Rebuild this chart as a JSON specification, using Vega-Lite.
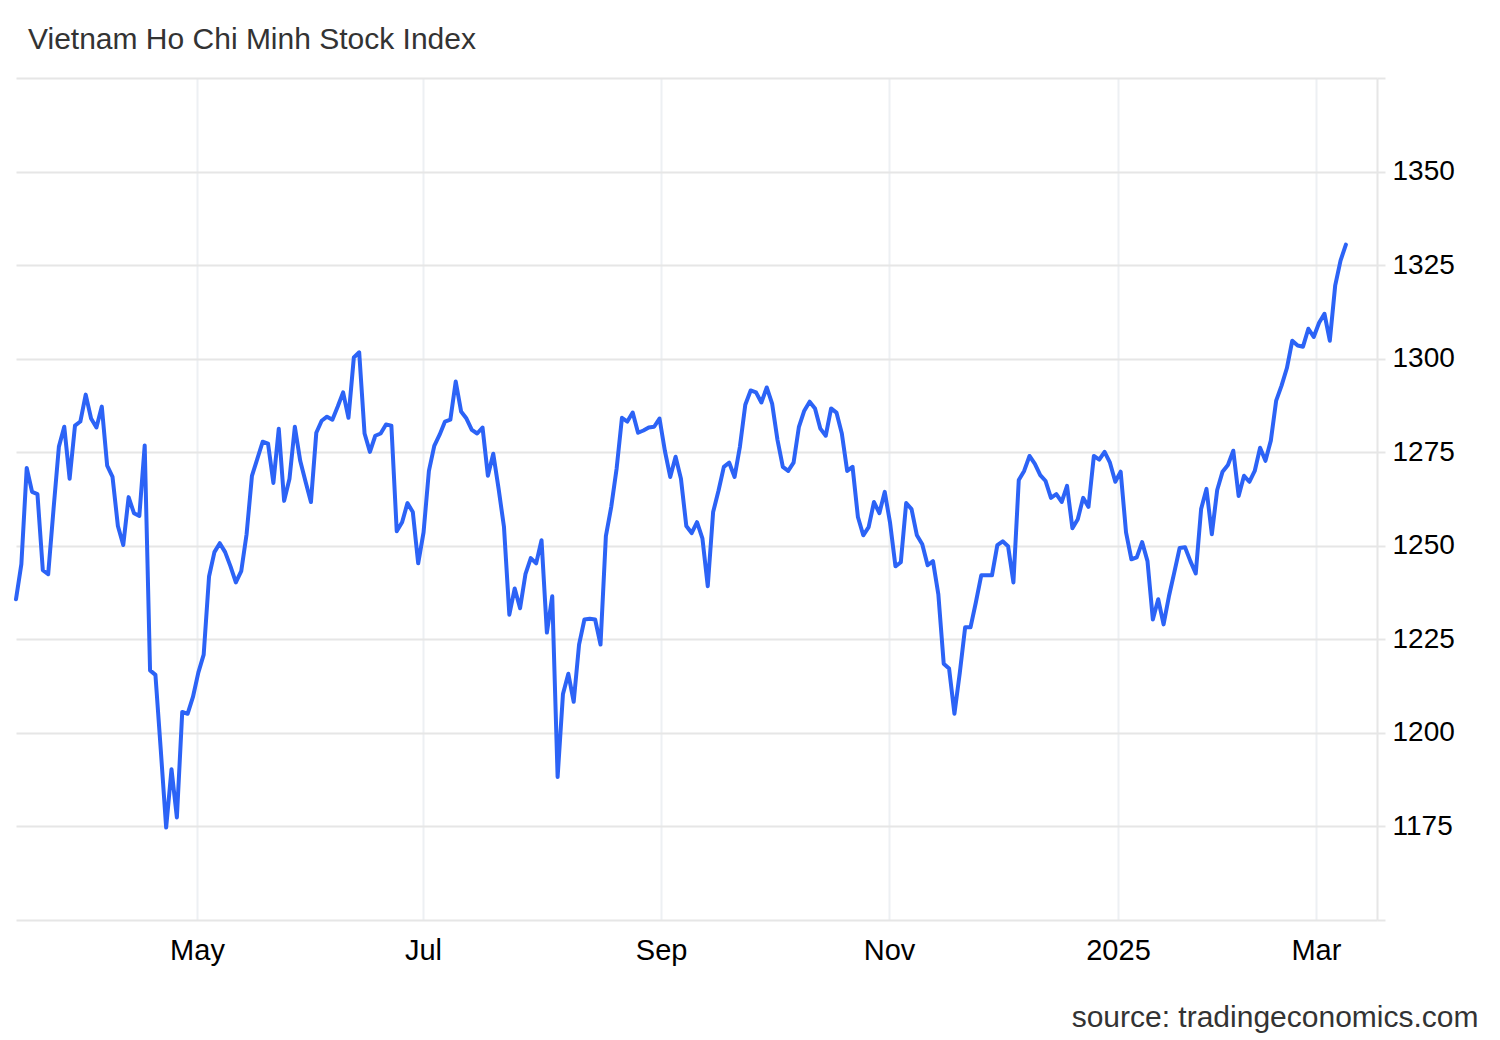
{
  "$schema": "https://vega.github.io/schema/vega-lite/v6.json",
  "width": 1361,
  "height": 842,
  "autosize": {"type": "none"},
  "padding": {"left": 16, "top": 78, "right": 123, "bottom": 120},
  "background": "#ffffff",
  "title": {
    "text": "Vietnam Ho Chi Minh Stock Index",
    "anchor": "start",
    "frame": "group",
    "dx": 12,
    "offset": 22,
    "font": "Liberation Sans",
    "fontSize": 30,
    "fontWeight": "normal",
    "color": "#333333"
  },
  "config": {
    "view": {"stroke": null},
    "axis": {"labelFont": "Liberation Sans", "titleFont": "Liberation Sans"}
  },
  "data": {
    "values": [
      {"day":0,"close":1235.7},{"day":1,"close":1245.1},{"day":2,"close":1270.8},{"day":3,"close":1264.4},{"day":4,"close":1263.8},
      {"day":5,"close":1243.5},{"day":6,"close":1242.4},{"day":7,"close":1259.8},{"day":8,"close":1276.5},{"day":9,"close":1281.8},
      {"day":10,"close":1267.9},{"day":11,"close":1282.1},{"day":12,"close":1283.2},{"day":13,"close":1290.4},{"day":14,"close":1284.0},
      {"day":15,"close":1281.6},{"day":16,"close":1287.2},{"day":17,"close":1271.4},{"day":18,"close":1268.4},{"day":19,"close":1255.3},
      {"day":20,"close":1250.2},{"day":21,"close":1263.0},{"day":22,"close":1258.7},{"day":23,"close":1258.0},{"day":24,"close":1276.8},
      {"day":25,"close":1216.7},{"day":26,"close":1215.5},{"day":27,"close":1195.4},{"day":28,"close":1174.7},{"day":29,"close":1190.3},
      {"day":30,"close":1177.4},{"day":31,"close":1205.6},{"day":32,"close":1205.1},{"day":33,"close":1209.6},{"day":34,"close":1216.1},
      {"day":35,"close":1220.9},{"day":36,"close":1241.8},{"day":37,"close":1248.3},{"day":38,"close":1250.7},{"day":39,"close":1248.3},
      {"day":40,"close":1244.5},{"day":41,"close":1240.2},{"day":42,"close":1243.2},{"day":43,"close":1253.1},{"day":44,"close":1268.7},
      {"day":45,"close":1273.2},{"day":46,"close":1277.8},{"day":47,"close":1277.3},{"day":48,"close":1266.8},{"day":49,"close":1281.3},
      {"day":50,"close":1262.0},{"day":51,"close":1267.9},{"day":52,"close":1281.8},{"day":53,"close":1272.7},{"day":54,"close":1267.1},
      {"day":55,"close":1261.7},{"day":56,"close":1280.2},{"day":57,"close":1283.4},{"day":58,"close":1284.5},{"day":59,"close":1283.7},
      {"day":60,"close":1287.2},{"day":61,"close":1291.0},{"day":62,"close":1284.2},{"day":63,"close":1300.3},{"day":64,"close":1301.7},
      {"day":65,"close":1280.0},{"day":66,"close":1275.1},{"day":67,"close":1279.4},{"day":68,"close":1280.0},{"day":69,"close":1282.4},
      {"day":70,"close":1282.1},{"day":71,"close":1253.9},{"day":72,"close":1256.3},{"day":73,"close":1261.4},{"day":74,"close":1259.0},
      {"day":75,"close":1245.3},{"day":76,"close":1253.6},{"day":77,"close":1270.0},{"day":78,"close":1276.7},{"day":79,"close":1279.7},
      {"day":80,"close":1283.2},{"day":81,"close":1283.7},{"day":82,"close":1293.9},{"day":83,"close":1285.9},{"day":84,"close":1284.0},
      {"day":85,"close":1281.0},{"day":86,"close":1280.0},{"day":87,"close":1281.6},{"day":88,"close":1268.7},{"day":89,"close":1274.6},
      {"day":90,"close":1265.2},{"day":91,"close":1255.0},{"day":92,"close":1231.6},{"day":93,"close":1238.6},{"day":94,"close":1233.3},
      {"day":95,"close":1242.4},{"day":96,"close":1246.7},{"day":97,"close":1245.3},{"day":98,"close":1251.5},{"day":99,"close":1226.8},
      {"day":100,"close":1236.5},{"day":101,"close":1188.2},{"day":102,"close":1210.4},{"day":103,"close":1215.8},{"day":104,"close":1208.3},
      {"day":105,"close":1223.6},{"day":106,"close":1230.3},{"day":107,"close":1230.5},{"day":108,"close":1230.3},{"day":109,"close":1223.6},
      {"day":110,"close":1252.6},{"day":111,"close":1260.4},{"day":112,"close":1270.6},{"day":113,"close":1284.2},{"day":114,"close":1283.2},
      {"day":115,"close":1285.6},{"day":116,"close":1280.2},{"day":117,"close":1280.8},{"day":118,"close":1281.6},{"day":119,"close":1281.8},
      {"day":120,"close":1284.0},{"day":121,"close":1275.4},{"day":122,"close":1268.4},{"day":123,"close":1273.8},{"day":124,"close":1267.9},
      {"day":125,"close":1255.3},{"day":126,"close":1253.4},{"day":127,"close":1256.3},{"day":128,"close":1252.0},{"day":129,"close":1239.2},
      {"day":130,"close":1259.0},{"day":131,"close":1264.7},{"day":132,"close":1271.1},{"day":133,"close":1272.2},{"day":134,"close":1268.4},
      {"day":135,"close":1276.5},{"day":136,"close":1287.7},{"day":137,"close":1291.5},{"day":138,"close":1291.0},{"day":139,"close":1288.3},
      {"day":140,"close":1292.3},{"day":141,"close":1288.0},{"day":142,"close":1278.3},{"day":143,"close":1271.1},{"day":144,"close":1270.0},
      {"day":145,"close":1272.2},{"day":146,"close":1281.8},{"day":147,"close":1286.1},{"day":148,"close":1288.5},{"day":149,"close":1286.7},
      {"day":150,"close":1281.3},{"day":151,"close":1279.4},{"day":152,"close":1286.7},{"day":153,"close":1285.6},{"day":154,"close":1280.0},
      {"day":155,"close":1270.0},{"day":156,"close":1271.1},{"day":157,"close":1257.7},{"day":158,"close":1252.8},{"day":159,"close":1255.0},
      {"day":160,"close":1261.7},{"day":161,"close":1258.7},{"day":162,"close":1264.4},{"day":163,"close":1256.1},{"day":164,"close":1244.5},
      {"day":165,"close":1245.6},{"day":166,"close":1261.4},{"day":167,"close":1259.8},{"day":168,"close":1252.8},{"day":169,"close":1250.4},
      {"day":170,"close":1244.8},{"day":171,"close":1245.9},{"day":172,"close":1237.0},{"day":173,"close":1218.5},{"day":174,"close":1217.2},
      {"day":175,"close":1205.1},{"day":176,"close":1216.1},{"day":177,"close":1228.2},{"day":178,"close":1228.2},{"day":179,"close":1234.9},
      {"day":180,"close":1242.1},{"day":181,"close":1242.1},{"day":182,"close":1242.1},{"day":183,"close":1250.2},{"day":184,"close":1251.2},
      {"day":185,"close":1249.9},{"day":186,"close":1240.2},{"day":187,"close":1267.6},{"day":188,"close":1270.0},{"day":189,"close":1274.0},
      {"day":190,"close":1271.9},{"day":191,"close":1268.9},{"day":192,"close":1267.3},{"day":193,"close":1262.8},{"day":194,"close":1263.8},
      {"day":195,"close":1261.7},{"day":196,"close":1266.0},{"day":197,"close":1254.7},{"day":198,"close":1257.1},{"day":199,"close":1262.8},
      {"day":200,"close":1260.4},{"day":201,"close":1274.0},{"day":202,"close":1273.0},{"day":203,"close":1275.1},{"day":204,"close":1272.2},
      {"day":205,"close":1267.1},{"day":206,"close":1269.8},{"day":207,"close":1253.6},{"day":208,"close":1246.4},{"day":209,"close":1246.9},
      {"day":210,"close":1251.0},{"day":211,"close":1245.9},{"day":212,"close":1230.3},{"day":213,"close":1235.7},{"day":214,"close":1229.0},
      {"day":215,"close":1236.5},{"day":216,"close":1242.9},{"day":217,"close":1249.4},{"day":218,"close":1249.6},{"day":219,"close":1245.9},
      {"day":220,"close":1242.6},{"day":221,"close":1259.8},{"day":222,"close":1265.2},{"day":223,"close":1253.1},{"day":224,"close":1264.9},
      {"day":225,"close":1269.8},{"day":226,"close":1271.6},{"day":227,"close":1275.4},{"day":228,"close":1263.3},{"day":229,"close":1268.7},
      {"day":230,"close":1267.1},{"day":231,"close":1270.0},{"day":232,"close":1276.2},{"day":233,"close":1272.7},{"day":234,"close":1278.1},
      {"day":235,"close":1288.8},{"day":236,"close":1292.8},{"day":237,"close":1297.5},{"day":238,"close":1304.8},{"day":239,"close":1303.5},
      {"day":240,"close":1303.2},{"day":241,"close":1308.0},{"day":242,"close":1305.8},{"day":243,"close":1309.6},{"day":244,"close":1312.0},
      {"day":245,"close":1304.8},{"day":246,"close":1319.5},{"day":247,"close":1326.2},{"day":248,"close":1330.5}
    ]
  },
  "mark": {"type": "line", "color": "#2c63f6", "strokeWidth": 4, "strokeJoin": "round", "strokeCap": "round"},
  "encoding": {
    "x": {
      "field": "day",
      "type": "quantitative",
      "scale": {"domain": [0, 253.8], "nice": false, "zero": false},
      "axis": {
        "orient": "bottom",
        "values": [33.75, 75.9, 120.3, 162.8, 205.5, 242.4],
        "labelExpr": "datum.value < 40 ? 'May' : datum.value < 80 ? 'Jul' : datum.value < 130 ? 'Sep' : datum.value < 170 ? 'Nov' : datum.value < 210 ? '2025' : 'Mar'",
        "grid": true,
        "gridColor": "#edf0f3",
        "gridWidth": 2,
        "domain": false,
        "ticks": false,
        "labelPadding": 16,
        "labelFontSize": 29,
        "labelColor": "#000000",
        "title": "source: tradingeconomics.com",
        "titleFontSize": 30,
        "titleFontWeight": "normal",
        "titleColor": "#333333",
        "titleAlign": "right",
        "titleAnchor": "end",
        "titleX": 1462,
        "titleY": 97,
        "titleBaseline": "middle"
      }
    },
    "y": {
      "field": "close",
      "type": "quantitative",
      "scale": {"domain": [1150, 1375], "nice": false, "zero": false},
      "axis": {
        "orient": "right",
        "values": [1150, 1175, 1200, 1225, 1250, 1275, 1300, 1325, 1350, 1375],
        "labelExpr": "datum.value == 1150 || datum.value == 1375 ? '' : datum.label",
        "format": "d",
        "grid": true,
        "gridColor": "#e6e6e6",
        "gridWidth": 2,
        "domain": true,
        "domainColor": "#e6e6e6",
        "domainWidth": 2,
        "ticks": true,
        "tickSize": 8,
        "tickColor": "#e6e6e6",
        "tickWidth": 2,
        "labelPadding": 7,
        "labelFontSize": 28,
        "labelColor": "#000000",
        "title": null
      }
    }
  }
}
